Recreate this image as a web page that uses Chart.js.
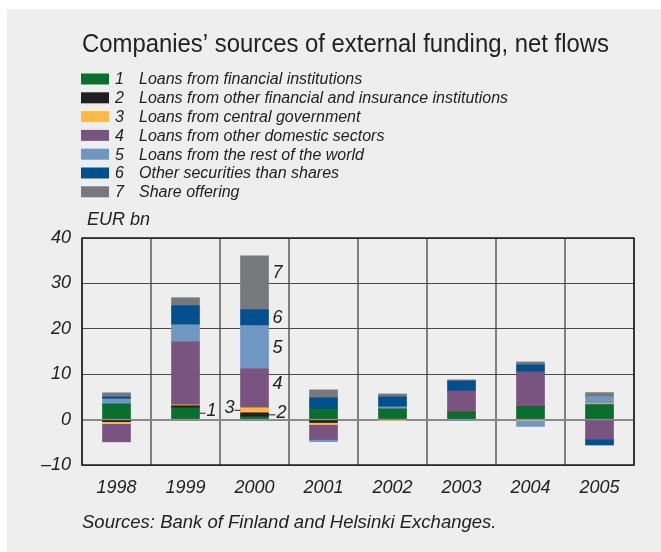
<!DOCTYPE html>
<html>
<head>
<meta charset="utf-8">
<script src="https://cdn.jsdelivr.net/npm/chart.js@4.4.1/dist/chart.umd.min.js"></script>
<style>
  html, body { margin: 0; padding: 0; background: #ffffff; }
  canvas { display: block; }
</style>
</head>
<body>
<canvas id="myChart" width="661" height="552"></canvas>
<script>
// EUR bn, net flows per year
const years = ["1998", "1999", "2000", "2001", "2002", "2003", "2004", "2005"];
const loansFinancial   = [3.45, 2.6, 0.6, 2.3, 2.3, 1.55, 2.8, 3.25];
const loansOtherFinIns = [-0.45, 0.45, 0.9, -0.65, 0, 0.15, 0, 0];
const loansCentralGov  = [-0.45, 0.2, 1.1, -0.45, -0.2, 0, -0.2, 0.25];
const loansDomestic    = [-4.0, 13.9, 8.6, -3.3, 0, 4.6, 7.7, -4.3];
const loansRestOfWorld = [1.1, 3.75, 9.5, -0.45, 0.5, -0.2, -1.3, 1.55];
const otherSecurities  = [0.45, 4.2, 3.5, 2.5, 2.2, 2.2, 1.55, -1.3];
const shareOffering    = [0.9, 1.75, 11.9, 1.75, 0.65, 0.25, 0.65, 0.9];

const seriesNames = [
  "Loans from financial institutions",
  "Loans from other financial and insurance institutions",
  "Loans from central government",
  "Loans from other domestic sectors",
  "Loans from the rest of the world",
  "Other securities than shares",
  "Share offering"
];
const yTicks = [-10, 0, 10, 20, 30, 40];

const seriesData = [loansFinancial, loansOtherFinIns, loansCentralGov, loansDomestic,
                    loansRestOfWorld, otherSecurities, shareOffering];
const colors = ["#0a6e2e", "#231f20", "#fdb846", "#7a5480", "#7096c3", "#01508e", "#77787c"];

// numbered markers next to the 1999 and 2000 columns
const markers = [
  { text: "1", year: "1999", series: 0, side: "right", dash: 6, dy: -2 },
  { text: "3", year: "2000", series: 2, side: "left",  dash: 6, dy: -2 },
  { text: "2", year: "2000", series: 1, side: "right", dash: 7, dy: -2 },
  { text: "4", year: "2000", series: 3, side: "right", dash: 0, dy: -4 },
  { text: "5", year: "2000", series: 4, side: "right", dash: 0, dy: 1 },
  { text: "6", year: "2000", series: 5, side: "right", dash: 0, dy: 0 },
  { text: "7", year: "2000", series: 6, side: "right", dash: 0, dy: -10 }
];

const FONT = "'Liberation Sans', Arial, sans-serif";
const TEXT = "#222222";

const decorations = {
  id: "decorations",
  beforeDraw(chart) {
    const ctx = chart.ctx;
    ctx.save();
    ctx.fillStyle = "#ffffff";
    ctx.fillRect(0, 0, chart.width, chart.height);
    ctx.fillStyle = "#eeeeee";
    ctx.fillRect(7, 9, chart.width - 7, chart.height - 9);
    ctx.restore();
  },
  afterDraw(chart) {
    const ctx = chart.ctx;
    const area = chart.chartArea;
    ctx.save();

    // frame
    ctx.strokeStyle = "#1e1e1e";
    ctx.lineWidth = 1.5;
    ctx.strokeRect(area.left, area.top, area.right - area.left, area.bottom - area.top);

    // title, set in a slightly condensed face
    const title = "Companies\u2019 sources of external funding, net flows";
    ctx.fillStyle = TEXT;
    ctx.textBaseline = "middle";
    ctx.textAlign = "left";
    ctx.font = "26px " + FONT;
    const squeeze = 527 / ctx.measureText(title).width;
    ctx.save();
    ctx.translate(82, 45);
    ctx.scale(squeeze, 1);
    ctx.fillText(title, 0, 0);
    ctx.restore();

    // legend
    ctx.font = "italic 16px " + FONT;
    seriesNames.forEach((name, i) => {
      const y = 79 + i * 18.8;
      ctx.fillStyle = colors[i];
      ctx.fillRect(81, y - 5.5, 28, 11);
      ctx.fillStyle = TEXT;
      ctx.fillText(String(i + 1), 115, y + 1);
      ctx.fillText(name, 139, y + 1);
    });

    // unit and source
    ctx.font = "italic 18px " + FONT;
    ctx.fillText("EUR bn", 87, 220);
    ctx.font = "italic 18.5px " + FONT;
    ctx.fillText("Sources: Bank of Finland and Helsinki Exchanges.", 82, 523);

    // column markers
    ctx.font = "italic 18px " + FONT;
    ctx.strokeStyle = TEXT;
    ctx.lineWidth = 1;
    markers.forEach(m => {
      const bar = chart.getDatasetMeta(m.series).data[years.indexOf(m.year)];
      const mid = (bar.y + bar.base) / 2;
      const half = bar.width / 2;
      if (m.side === "right") {
        const x0 = bar.x + half;
        if (m.dash) {
          ctx.beginPath();
          ctx.moveTo(x0, mid);
          ctx.lineTo(x0 + m.dash, mid);
          ctx.stroke();
        }
        ctx.textAlign = "left";
        ctx.fillText(m.text, x0 + m.dash + (m.dash ? 1 : 4), mid + m.dy);
      } else {
        const x0 = bar.x - half;
        ctx.beginPath();
        ctx.moveTo(x0, mid);
        ctx.lineTo(x0 - m.dash, mid);
        ctx.stroke();
        ctx.textAlign = "right";
        ctx.fillText(m.text, x0 - m.dash, mid + m.dy);
      }
    });
    ctx.restore();
  }
};

new Chart(document.getElementById("myChart").getContext("2d"), {
  type: "bar",
  data: {
    labels: years,
    datasets: seriesData.map((values, i) => ({
      label: seriesNames[i],
      data: values,
      backgroundColor: colors[i],
      borderWidth: 0,
      barThickness: 28
    }))
  },
  options: {
    responsive: false,
    animation: false,
    layout: { padding: { left: 0, right: 27, top: 238, bottom: 47 } },
    plugins: {
      legend: { display: false },
      tooltip: { enabled: false }
    },
    scales: {
      x: {
        stacked: true,
        offset: true,
        afterFit: (scale) => { scale.height = 40; },
        grid: {
          offset: true,
          color: "#7f7f7f",
          lineWidth: 2,
          drawTicks: false
        },
        border: { display: false },
        ticks: {
          padding: 12,
          color: TEXT,
          font: { family: FONT, size: 18, style: "italic" }
        }
      },
      y: {
        stacked: true,
        min: yTicks[0],
        max: yTicks[yTicks.length - 1],
        afterFit: (scale) => { scale.width = 82; },
        afterBuildTicks: (scale) => { scale.ticks = yTicks.map(v => ({ value: v })); },
        grid: {
          drawTicks: false,
          color: (c) => (c.tick && c.tick.value === 0 ? "#8a8a8a" : "#4a4a4a"),
          lineWidth: (c) => (c.tick && c.tick.value === 0 ? 2 : 1)
        },
        border: { display: false },
        ticks: {
          padding: 11,
          color: TEXT,
          font: { family: FONT, size: 18, style: "italic" },
          callback: (v) => (v < 0 ? "\u2013" + Math.abs(v) : String(v))
        }
      }
    }
  },
  plugins: [decorations]
});
</script>
</body>
</html>
